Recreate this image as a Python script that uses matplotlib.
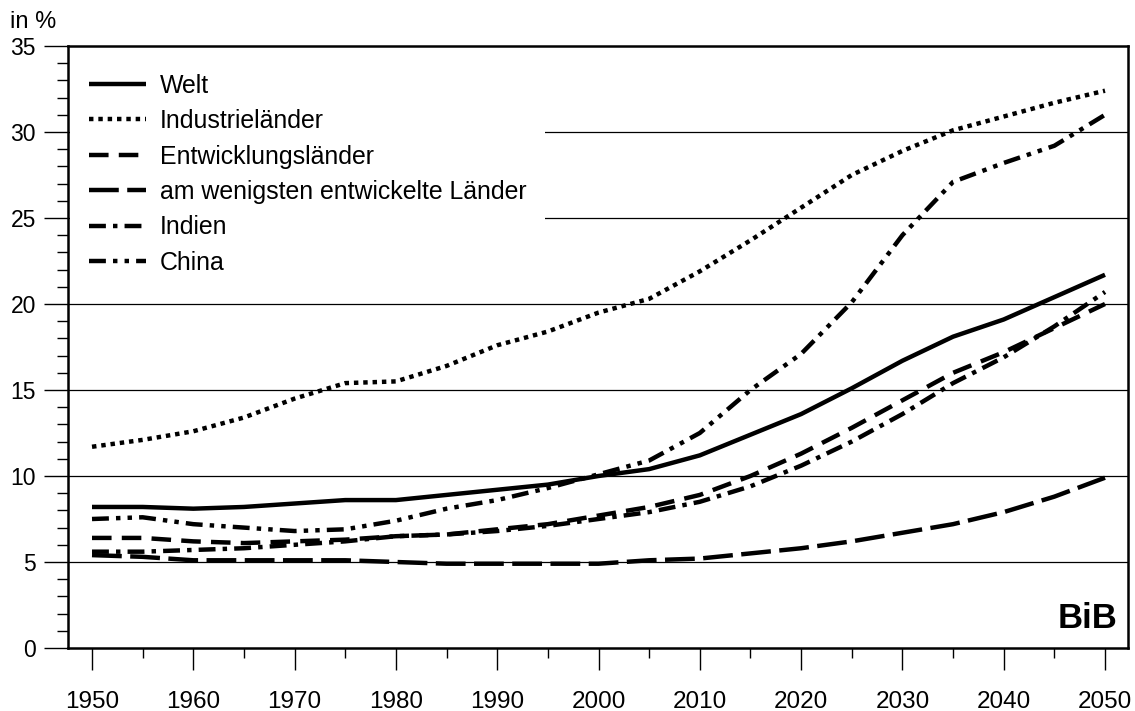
import matplotlib
matplotlib.use("Agg")
import matplotlib.pyplot as plt
from matplotlib.ticker import MultipleLocator

plt.rcParams['font.family'] = ['Liberation Sans', 'DejaVu Sans']

years = list(range(1950, 2051, 5))
welt = [8.2, 8.2, 8.1, 8.2, 8.4, 8.6, 8.6, 8.9, 9.2, 9.5, 10.0, 10.4, 11.2, 12.4, 13.6, 15.1, 16.7, 18.1, 19.1, 20.4, 21.7]
industrie = [11.7, 12.1, 12.6, 13.4, 14.5, 15.4, 15.5, 16.4, 17.6, 18.4, 19.5, 20.3, 21.9, 23.7, 25.6, 27.5, 28.9, 30.1, 30.9, 31.7, 32.4]
entwicklung = [6.4, 6.4, 6.2, 6.1, 6.2, 6.3, 6.5, 6.6, 6.9, 7.2, 7.7, 8.2, 8.9, 10.0, 11.3, 12.8, 14.4, 16.0, 17.2, 18.6, 20.0]
ldc = [5.4, 5.3, 5.1, 5.1, 5.1, 5.1, 5.0, 4.9, 4.9, 4.9, 4.9, 5.1, 5.2, 5.5, 5.8, 6.2, 6.7, 7.2, 7.9, 8.8, 9.9]
indien = [5.6, 5.6, 5.7, 5.8, 6.0, 6.2, 6.5, 6.6, 6.8, 7.1, 7.5, 7.9, 8.5, 9.4, 10.6, 12.0, 13.6, 15.4, 16.9, 18.7, 20.7]
china = [7.5, 7.6, 7.2, 7.0, 6.8, 6.9, 7.4, 8.1, 8.6, 9.3, 10.1, 10.9, 12.5, 15.0, 17.1, 20.1, 24.0, 27.1, 28.2, 29.2, 31.0]

labels = ["Welt", "Industrieländer", "Entwicklungsländer",
          "am wenigsten entwickelte Länder", "Indien", "China"]
x_ticklabels = [str(y) for y in range(1950, 2051, 10)]

fig = plt.figure(figsize=(11.35, 7.11), dpi=100)
ax = fig.add_axes([68/1135, 63/711, 1060/1135, 602/711])

lw = 3.2
series = [welt, industrie, entwicklung, ldc, indien, china]
styles = [
    (0, ()),
    (0, (1.0, 1.1)),
    (0, (4.4, 2.3)),
    (0, (6.7, 1.9)),
    (0, (3.8, 1.6, 1.0, 1.6)),
    (0, (3.8, 1.6, 1.0, 1.6, 1.0, 1.6)),
]
for data, ls, lab in zip(series, styles, labels):
    ax.plot(years, data, color='black', lw=lw, linestyle=ls, label=lab,
            solid_capstyle='butt', dash_capstyle='butt', zorder=3)

ax.set_xlim(1947.63, 2052.27)
ax.set_ylim(0, 35)

ax.xaxis.set_minor_locator(MultipleLocator(5))
ax.yaxis.set_major_locator(MultipleLocator(5))
ax.yaxis.set_minor_locator(MultipleLocator(1))
ax.set_xticks(list(range(1950, 2051, 10)))
ax.set_xticklabels(x_ticklabels)

ax.tick_params(axis='x', which='major', length=16, width=1, pad=15, labelsize=17.5, direction='out')
ax.tick_params(axis='x', which='minor', length=7, width=1, direction='out')
ax.tick_params(axis='y', which='major', length=17, width=1, pad=6, labelsize=16.5, direction='out')
ax.tick_params(axis='y', which='minor', length=8, width=1, direction='out')

for sp in ax.spines.values():
    sp.set_linewidth(1.8)

for v in [5, 10, 15, 20, 25, 30]:
    ax.axhline(v, color='black', lw=0.9, zorder=1)

leg = ax.legend(loc='upper left', bbox_to_anchor=(0.002, 0.985), fontsize=17.9,
                frameon=True, fancybox=False, framealpha=1, facecolor='white',
                edgecolor='none', handlelength=2.3, handletextpad=0.55,
                labelspacing=0.46, borderaxespad=0.0, borderpad=0.75)
leg.set_zorder(2)

ax.text(0.99, 0.033, "BiB", transform=ax.transAxes, ha='right', va='baseline',
        fontsize=25, fontweight='bold')
fig.text(10/1135, 1 - 22/711, "in %", ha='left', va='center', fontsize=17)

fig.savefig("out.png", dpi=100)
